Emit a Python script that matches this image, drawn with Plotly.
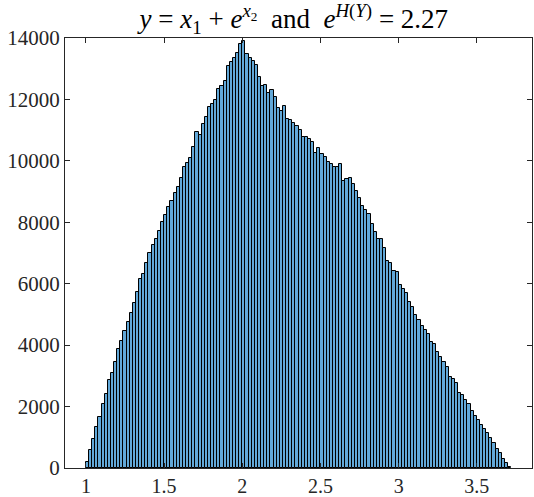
import plotly.graph_objects as go

# histogram of y = x1 + exp(x2), counts
bin_start = 1.0
bin_width = 0.02
counts = [
    196, 598, 946, 1337, 1663, 2087, 2424, 2880, 3098, 3457,
    3880, 4141, 4468, 4761, 5055, 5370, 5739, 6163, 6326, 6685,
    6990, 7250, 7468, 7729, 8011, 8240, 8492, 8688, 8949, 9144,
    9438, 9796, 9936, 10099, 10448, 10925, 10840, 11208, 11426, 11752,
    11860, 11968, 12339, 12437, 12600, 13089, 13219, 13359, 13522, 13815,
    13904, 13467, 13350, 13252, 13122, 12730, 12437, 12470, 12219, 12294,
    12078, 11720, 11609, 11785, 11361, 11338, 11231, 11133, 11012, 10774,
    10774, 10709, 10611, 10262, 10416, 10220, 10110, 9959, 9894, 9784,
    9784, 9904, 9340, 9405, 9438, 9252, 9014, 8786, 8525, 8404,
    8264, 7948, 7677, 7459, 7459, 7165, 6731, 6686, 6416, 6373,
    5955, 5819, 5689, 5396, 5233, 4972, 4809, 4613, 4483, 4352,
    4091, 4026, 3765, 3602, 3439, 3276, 2950, 2885, 2754, 2428,
    2384, 2200, 2069, 1841, 1678, 1548, 1385, 1255, 1125, 962,
    799, 603, 473, 277, 179, 25,
]
x_ticks = [1, 1.5, 2, 2.5, 3, 3.5]
y_ticks = [0, 2000, 4000, 6000, 8000, 10000, 12000, 14000]

centers = [bin_start + bin_width * (i + 0.5) for i in range(len(counts))]

fig = go.Figure(go.Bar(
    x=centers,
    y=counts,
    width=bin_width,
    marker=dict(color="rgb(98,168,216)", line=dict(color="black", width=1)),
))

font = "Liberation Serif, DejaVu Serif, serif"
title = ("<i>y</i> = <i>x</i><sub>1</sub> + <i>e</i><sup><i>x</i><sub>2</sub></sup>"
         "  and  <i>e</i><sup><i>H</i>(<i>Y</i>)</sup> = 2.27")

fig.update_layout(
    width=534, height=497,
    margin=dict(l=65, r=2, t=38, b=29),
    plot_bgcolor="white", paper_bgcolor="white",
    bargap=0, showlegend=False,
    font=dict(family=font, size=21, color="#262626"),
    title=dict(text=title, x=0.49, xref="paper", xanchor="center",
               y=1 - 19 / 497, yref="container", yanchor="middle",
               font=dict(family=font, size=27, color="black")),
)
fig.update_xaxes(
    range=[0.866, 3.853], tickvals=x_ticks, ticktext=[str(v) for v in x_ticks],
    showgrid=False, zeroline=False, showline=True, linecolor="#262626", linewidth=1,
    mirror="ticks", ticks="inside", ticklen=5, tickcolor="#262626",
    ticklabelstandoff=0, automargin=False, tickfont=dict(size=20),
)
fig.update_yaxes(
    range=[0, 14000], tickvals=y_ticks, ticktext=[str(v) for v in y_ticks],
    showgrid=False, zeroline=False, showline=True, linecolor="#262626", linewidth=1,
    mirror="ticks", ticks="inside", ticklen=5, tickcolor="#262626",
    ticklabelstandoff=0, automargin=False,
)

# drop the page's default body margin so the figure sits at the window's corner
fig.write_html("out.html", config={"displayModeBar": False},
               post_script="document.body.style.margin='0';")
